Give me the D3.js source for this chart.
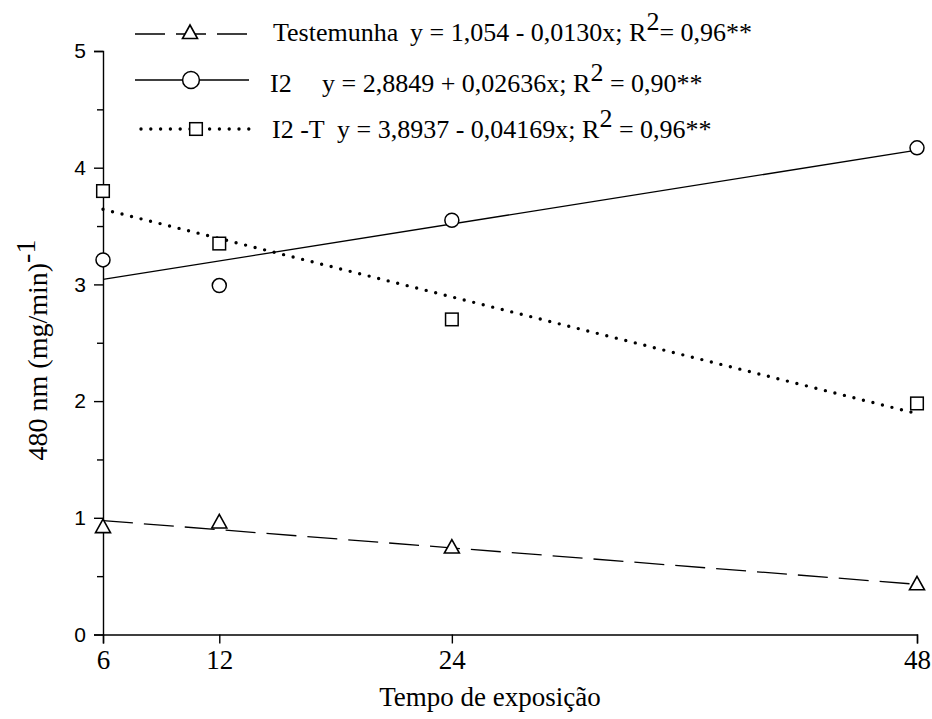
<!DOCTYPE html>
<html>
<head>
<meta charset="utf-8">
<script src="https://cdn.jsdelivr.net/npm/d3@7"></script>
<style>
  html, body { margin: 0; padding: 0; background: #fff; }
  svg { display: block; }
</style>
</head>
<body>
<svg id="chart" width="932" height="719"></svg>
<script>
// ---- data ----
const times = [6, 12, 24, 48];
const testemunha = [0.92, 0.96, 0.745, 0.43];
const i2 = [3.21, 2.99, 3.55, 4.17];
const i2t = [3.80, 3.35, 2.70, 1.98];
const seriesNames = ["Testemunha", "I2", "I2 -T"];
const intercepts = [1.054, 2.8849, 3.8937];
const slopes = [-0.0130, 0.02636, -0.04169];
const equations = [
  ["y = 1,054 - 0,0130x; R", "2", "= 0,96**"],
  ["y = 2,8849 + 0,02636x; R", "2", " = 0,90**"],
  ["y = 3,8937 - 0,04169x; R", "2", " = 0,96**"]
];
const xTicks = [6, 12, 24, 48];
const yTicks = [0, 1, 2, 3, 4, 5];
const yMinorTicks = [0.5, 1.5, 2.5, 3.5, 4.5];
const xTitle = "Tempo de exposição";
const yTitle = "480 nm (mg/min)";
const yTitleSup = "-1";

const SERIF = "'Liberation Serif', 'Times New Roman', Times, serif";
const SANS = "'Liberation Sans', Arial, Helvetica, sans-serif";

// ---- layout ----
const svg = d3.select("#chart");
const x = d3.scaleLinear().domain([6, 48]).range([103, 917]);
const y = d3.scaleLinear().domain([0, 5]).range([634.5, 51]);

const styles = [
  {dash: "30,11", cap: "butt", width: 1.3, marker: "triangle", x1: 135, x2: 250},
  {dash: null, cap: "butt", width: 1.3, marker: "circle", x1: 135, x2: 249},
  {dash: "0,9.8", cap: "round", width: 3.4, marker: "square", x1: 141, x2: 256}
];
const values = [testemunha, i2, i2t];

// axes
const gx = svg.append("g").attr("transform", `translate(0,${y(0)})`)
  .call(d3.axisBottom(x).tickValues(xTicks).tickSize(9).tickFormat(d3.format("d")));
gx.select(".domain").attr("stroke", "#000").attr("stroke-width", 1.4);
gx.selectAll(".tick line").attr("stroke-width", 1.4);
gx.selectAll("text").attr("font-size", 27).attr("fill", "#000")
  .attr("font-family", SERIF).attr("y", 34).attr("dy", 0);

const gy = svg.append("g").attr("transform", `translate(${x(6)},0)`)
  .call(d3.axisLeft(y).tickValues(yTicks).tickSize(9).tickPadding(8).tickFormat(d3.format("d")));
gy.select(".domain").attr("stroke", "#000").attr("stroke-width", 1.4);
gy.selectAll(".tick line").attr("stroke-width", 1.4);
gy.selectAll("text").attr("font-size", 21).attr("fill", "#000")
  .attr("font-family", SANS);
svg.append("g").attr("transform", `translate(${x(6)},0)`)
  .call(d3.axisLeft(y).tickValues(yMinorTicks).tickSize(6).tickFormat(""))
  .call(g => g.select(".domain").remove())
  .selectAll(".tick line").attr("stroke-width", 1.4);

// regression lines
values.forEach((vals, i) => {
  const pts = [6, 48].map(t => [x(t), y(intercepts[i] + slopes[i] * t)]);
  svg.append("path")
    .attr("d", d3.line()(pts))
    .attr("fill", "none").attr("stroke", "#000")
    .attr("stroke-width", styles[i].width)
    .attr("stroke-dasharray", styles[i].dash)
    .attr("stroke-linecap", styles[i].cap);
});

function drawMarker(g, type, cx, cy, k) {
  k = k || 1;
  if (type === "triangle") {
    g.append("path").attr("d", `M${cx},${cy - 8 * k} L${cx + 7.5 * k},${cy + 5.5 * k} L${cx - 7.5 * k},${cy + 5.5 * k} Z`)
      .attr("fill", "#fff").attr("stroke", "#000").attr("stroke-width", 1.6);
  } else if (type === "circle") {
    g.append("circle").attr("cx", cx).attr("cy", cy).attr("r", 7 * k)
      .attr("fill", "#fff").attr("stroke", "#000").attr("stroke-width", 1.5);
  } else {
    g.append("rect").attr("x", cx - 6.3 * k).attr("y", cy - 6.3 * k).attr("width", 12.6 * k).attr("height", 12.6 * k)
      .attr("fill", "#fff").attr("stroke", "#000").attr("stroke-width", 1.5);
  }
}

// data markers
const gm = svg.append("g");
values.forEach((vals, i) => {
  vals.forEach((v, j) => drawMarker(gm, styles[i].marker, x(times[j]), y(v)));
});

// legend
const legendY = [34, 80, 129];
const textY = [41, 92, 138];
const nameX = [273, 270, 272];
const eqX = [410, 322, 337];
const symX = [190, 191, 196];
const lg = svg.append("g");
styles.forEach((s, i) => {
  const ly = legendY[i];
  lg.append("line").attr("x1", s.x1).attr("x2", s.x2).attr("y1", ly).attr("y2", ly)
    .attr("stroke", "#000").attr("stroke-width", s.width)
    .attr("stroke-dasharray", s.dash).attr("stroke-linecap", s.cap);
  drawMarker(lg, s.marker, symX[i], ly - (s.marker === "triangle" ? 1 : 0), s.marker === "circle" ? 1.2 : 1);
  lg.append("text").attr("x", nameX[i]).attr("y", textY[i])
    .attr("font-family", SERIF).attr("font-size", 26).text(seriesNames[i]);
  const t = lg.append("text").attr("x", eqX[i]).attr("y", textY[i])
    .attr("font-family", SERIF).attr("font-size", 26);
  t.append("tspan").text(equations[i][0]);
  t.append("tspan").attr("dy", -11).text(equations[i][1]);
  t.append("tspan").attr("dy", 11).text(equations[i][2]);
});

// axis titles
svg.append("text").attr("x", 490).attr("y", 706).attr("text-anchor", "middle")
  .attr("font-family", SERIF).attr("font-size", 27).text(xTitle);

const yl = svg.append("text").attr("transform", "translate(47,350) rotate(-90)")
  .attr("text-anchor", "middle").attr("font-family", SERIF).attr("font-size", 28);
yl.append("tspan").text(yTitle);
yl.append("tspan").attr("dy", -12).text(yTitleSup);
</script>
</body>
</html>
